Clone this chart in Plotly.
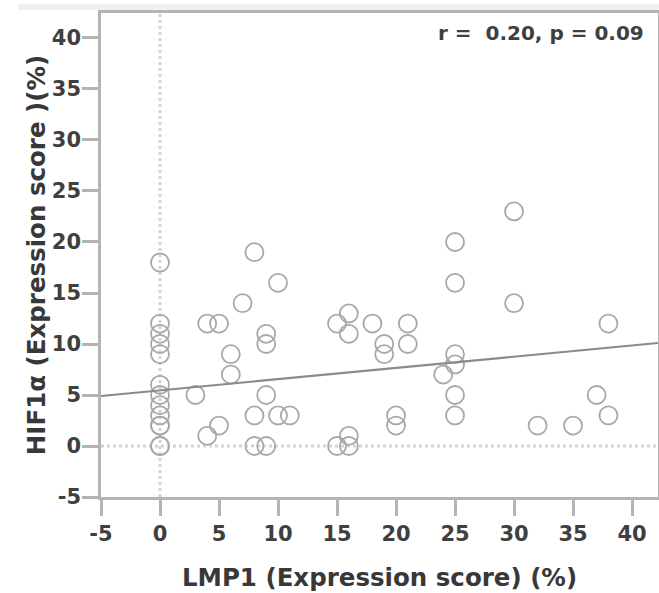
import plotly.graph_objects as go

# LMP1 expression score (%) and HIF1a expression score (%)
lmp1 = [0, 0, 0, 0, 0, 0, 0, 0, 0, 0, 0, 0, 0,
        3, 4, 5, 4, 5, 6, 6, 7, 8, 8, 8, 9, 9, 9, 9, 10, 10, 11,
        15, 15, 16, 16, 16, 16, 18, 19, 19, 20, 20, 21, 21, 24,
        25, 25, 25, 25, 25, 25, 30, 30, 32, 35, 37, 38, 38]
hif1a = [18, 12, 11, 10, 9, 6, 5, 4, 3, 2, 2, 0, 0,
         5, 12, 12, 1, 2, 9, 7, 14, 19, 3, 0, 11, 10, 5, 0, 16, 3, 3,
         12, 0, 13, 11, 1, 0, 12, 10, 9, 3, 2, 12, 10, 7,
         20, 16, 9, 8, 5, 3, 23, 14, 2, 2, 5, 12, 3]

# fitted regression line as drawn in the chart (ends)
fit_x = [-5, 42.2]
fit_y = [4.9, 10.1]

x_ticks = [-5, 0, 5, 10, 15, 20, 25, 30, 35, 40]
x_tick_labels = ["-5", "0", "5", "10", "15", "20", "25", "30", "35", "40"]
y_ticks = [-5, 0, 5, 10, 15, 20, 25, 30, 35, 40]
y_tick_labels = ["-5", "0", "5", "10", "15", "20", "25", "30", "35", "40"]
x_range = [-5, 42.2]
y_range = [-5, 42.45]
stats_text = "r =  0.20, p = 0.09"

FONT = "DejaVu Sans, Verdana, sans-serif"

fig = go.Figure()
fig.add_trace(go.Scatter(
    x=lmp1, y=hif1a, mode="markers",
    marker=dict(symbol="circle-open", size=18, color="#a8a8a8",
                line=dict(width=1.8, color="#a8a8a8")),
    showlegend=False, hoverinfo="x+y"))
fig.add_trace(go.Scatter(
    x=fit_x, y=fit_y, mode="lines",
    line=dict(color="#8a8a8a", width=2.2),
    showlegend=False, hoverinfo="skip"))

# reference lines at x=0 and y=0
fig.add_shape(type="line", xref="x", yref="paper", x0=0, x1=0, y0=0, y1=1,
              line=dict(color="#d4d4d4", width=3, dash="dot"), layer="below")
fig.add_shape(type="line", xref="paper", yref="y", x0=0, x1=1, y0=0, y1=0,
              line=dict(color="#d4d4d4", width=3, dash="dot"), layer="below")
# faint strip along the top
fig.add_shape(type="rect", xref="paper", yref="paper", x0=-0.149, x1=1.01,
              y0=1.0062, y1=1.0186, line=dict(width=0), fillcolor="#f1f1f1")

axis_common = dict(
    showline=True, linecolor="#b4b4b4", linewidth=2.5, mirror=True,
    ticks="outside", ticklen=16, tickwidth=2.5, tickcolor="#b4b4b4",
    showgrid=False, zeroline=False, automargin=False,
    tickfont=dict(family=FONT, size=21, color="#3f3f3f", weight="bold"),
)

fig.update_xaxes(range=x_range, tickvals=x_ticks, ticktext=x_tick_labels, **axis_common,
                 title=dict(text="LMP1 (Expression score) (%)", standoff=24,
                            font=dict(family=FONT, size=24.5, color="#383838", weight="bold")))
fig.update_yaxes(range=y_range, tickvals=y_ticks, ticktext=y_tick_labels, **axis_common,
                 ticklabelstandoff=-3,
                 title=dict(text="HIF1α (Expression score )(%)", standoff=0,
                            font=dict(family=FONT, size=24.5, color="#383838", weight="bold")))

fig.add_annotation(text=stats_text, xref="paper", yref="paper",
                   x=0.978, y=0.959, xanchor="right", yanchor="middle",
                   showarrow=False,
                   font=dict(family=FONT, size=20, color="#3f3f3f", weight="bold"))

fig.update_layout(
    width=659, height=593,
    margin=dict(l=101, r=1, t=13, b=96),
    plot_bgcolor="white", paper_bgcolor="white",
)

fig.write_html("out.html", config={"displayModeBar": False},
               post_script="document.body.style.margin='0';")
